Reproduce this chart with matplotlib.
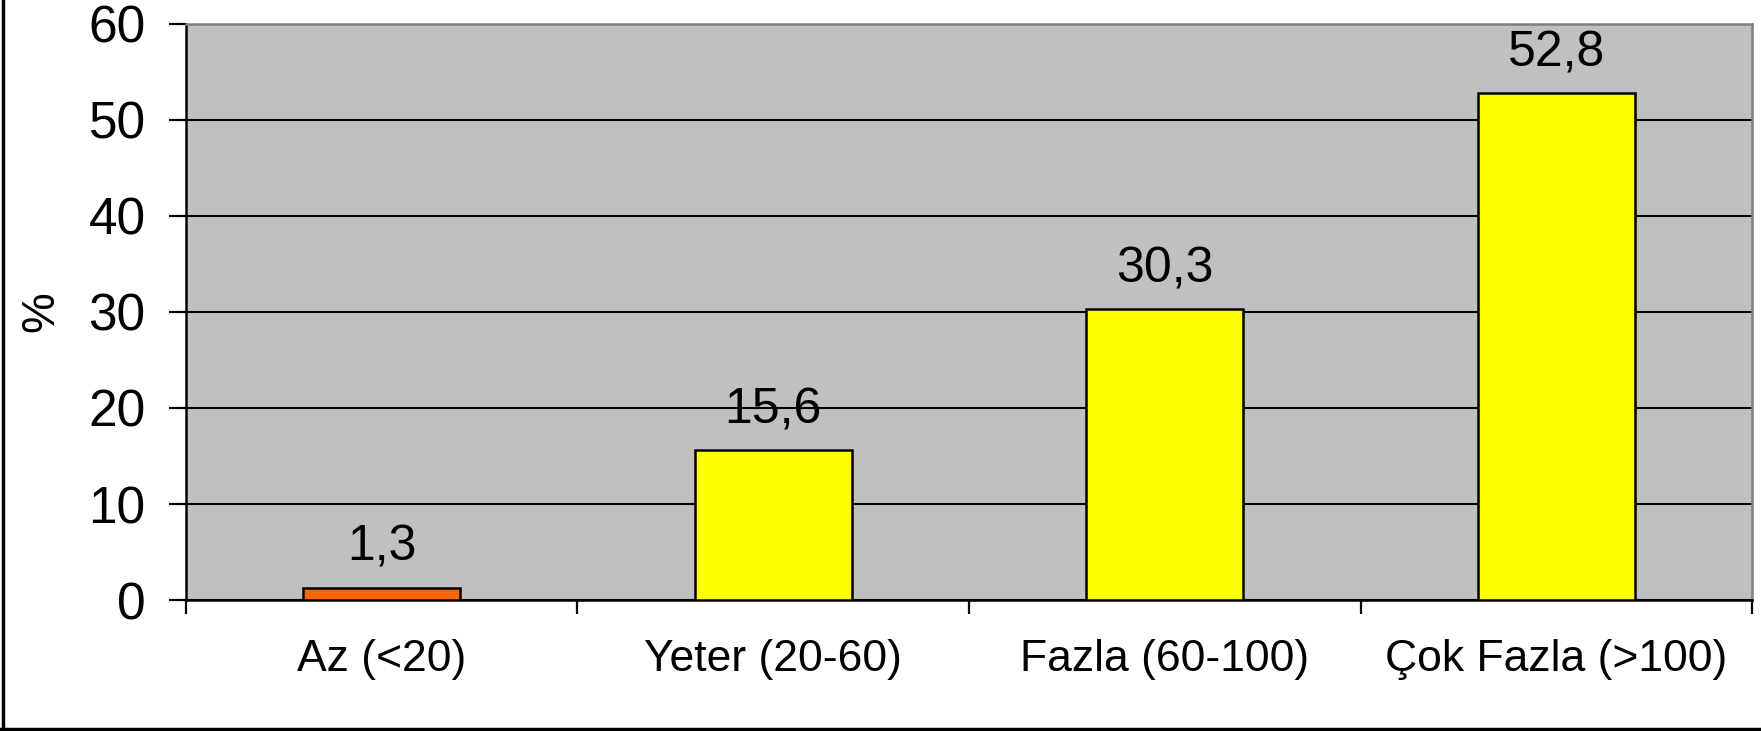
import numpy as np
import matplotlib.pyplot as plt
from matplotlib.lines import Line2D

'''Chart data'''
categories = ['Az (<20)', 'Yeter (20-60)', 'Fazla (60-100)', 'Çok Fazla (>100)']
values = [1.3, 15.6, 30.3, 52.8]
value_labels = ['1,3', '15,6', '30,3', '52,8']
bar_colors = ['#FF6600', '#FFFF00', '#FFFF00', '#FFFF00']
yticks = [0, 10, 20, 30, 40, 50, 60]

plt.rcParams['font.family'] = ['Liberation Sans', 'DejaVu Sans']

fig = plt.figure(figsize=(17.61, 7.31), dpi=100)
ax = fig.add_axes([0.1056, 0.1792, 0.8893, 0.788])
ax.set_facecolor('#C0C0C0')

x = np.arange(len(categories))
ax.bar(x, values, width=0.40, color=bar_colors, edgecolor='black', linewidth=1.8, zorder=3)

# value labels above bars
for xi, v, lab in zip(x, values, value_labels):
    ax.annotate(lab, (xi, v), xytext=(0, 12), textcoords='offset points',
                ha='center', va='bottom', fontsize=36)

ax.set_xlim(-0.5, len(categories) - 0.5)
ax.set_ylim(0, 60)
ax.set_yticks(yticks)
ax.tick_params(axis='y', labelsize=37, length=12, width=1.6, direction='out', pad=17)

# ticks at category boundaries, labels at centres
ax.set_xticks(np.arange(-0.5, len(categories)), labels=[''] * (len(categories) + 1))
ax.set_xticks(x, labels=categories, minor=True)
ax.tick_params(axis='x', which='major', length=10, width=1.6, direction='out')
ax.tick_params(axis='x', which='minor', length=0, labelsize=32, pad=28)

ax.yaxis.grid(True, color='black', linewidth=1.5)
ax.set_axisbelow(True)

ax.spines['left'].set_linewidth(1.8)
ax.spines['bottom'].set_linewidth(1.8)
ax.spines['top'].set_color('#808080')
ax.spines['right'].set_color('#808080')
ax.spines['top'].set_linewidth(1.8)
ax.spines['right'].set_linewidth(1.8)

ax.set_ylabel('%', fontsize=33, labelpad=18)

# outer chart frame (left and bottom visible)
fig.add_artist(Line2D([0.0015, 0.0015], [0, 1], transform=fig.transFigure, color='black', linewidth=2.5))
fig.add_artist(Line2D([0, 1], [0.0025, 0.0025], transform=fig.transFigure, color='black', linewidth=2.5))

plt.savefig('out.png', dpi=100)
